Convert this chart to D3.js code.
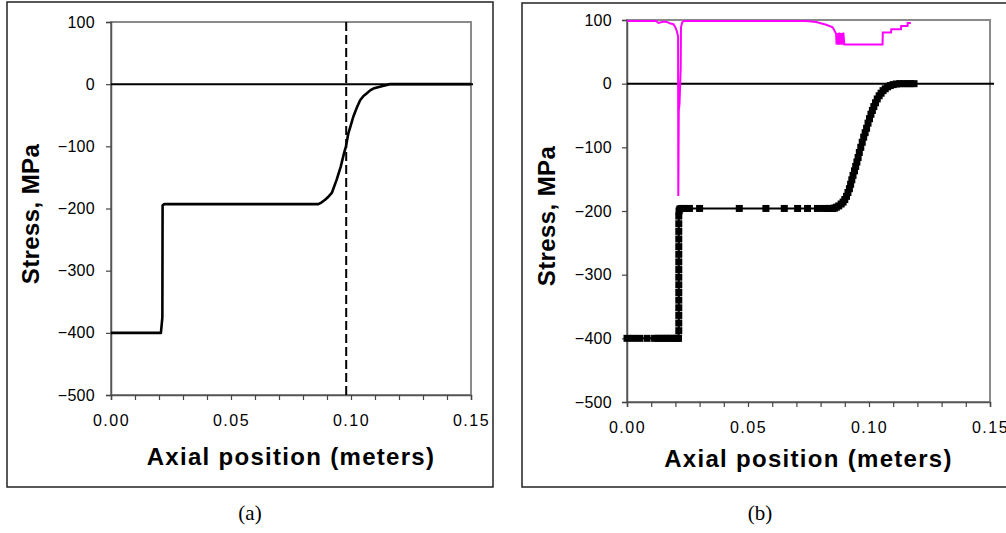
<!DOCTYPE html>
<html>
<head>
<meta charset="utf-8">
<script src="https://cdn.jsdelivr.net/npm/d3@7"></script>
<style>
  html, body { margin: 0; padding: 0; background: #fff; }
  svg { display: block; }
  .tick text { font-family: "Liberation Sans", Arial, sans-serif; font-size: 16px; fill: #000; }
</style>
</head>
<body>
<svg id="chart" width="1006" height="533"></svg>
<script>
// ---------------- DATA ----------------
const xTickValues = [0, 0.05, 0.10, 0.15];
const xTickLabels = ["0.00", "0.05", "0.10", "0.15"];
const xMinorStep = 0.01;
const yTickValues = [100, 0, -100, -200, -300, -400, -500];
const xTitle = "Axial position (meters)";
const yTitle = "Stress, MPa";
const captions = ["(a)", "(b)"];
const dashedX = 0.098;   // vertical dashed marker in panel (a)

// Panel (a): stress profile
const aX = [0, 0.0208, 0.0214, 0.0215, 0.0222, 0.0864, 0.0878, 0.0892, 0.0906, 0.0920, 0.0940, 0.0957, 0.0971, 0.0979, 0.0989, 0.1000, 0.1010, 0.1024, 0.1038, 0.1052, 0.1065, 0.1080, 0.1093, 0.1120, 0.1149, 0.1160, 0.15];
const aY = [-400, -400, -375, -195, -193, -193, -190, -186, -181, -175, -154, -133, -111, -100, -79, -65, -52, -38, -26, -19, -15, -10, -7, -4, -1.5, 0, 0];

// Panel (b): black series (square markers)
const bX = [0, 0.0026, 0.0052, 0.0083, 0.0114, 0.0128, 0.0142, 0.0156, 0.0169, 0.0183, 0.0196, 0.0206, 0.0213,
  0.0214, 0.0214, 0.0214, 0.0214, 0.0214, 0.0214, 0.0214, 0.0214, 0.0214, 0.0214, 0.0214, 0.0214, 0.0214, 0.0214, 0.0214, 0.0214,
  0.0215, 0.0218, 0.0224, 0.0235, 0.0258, 0.0300, 0.0464, 0.0574, 0.0650, 0.0705, 0.0746, 0.0787, 0.0815, 0.0830, 0.0842, 0.0850,
  0.0857, 0.0865, 0.0875, 0.0885, 0.0893, 0.0900, 0.0907, 0.0913, 0.0919, 0.0924, 0.0929, 0.0934, 0.0940, 0.0945, 0.0950, 0.0955,
  0.0960, 0.0966, 0.0972, 0.0978, 0.0984, 0.0990, 0.0996, 0.1002, 0.1008, 0.1014, 0.1020, 0.1027, 0.1034, 0.1042, 0.1050, 0.1058,
  0.1067, 0.1077, 0.1088, 0.1100, 0.1113, 0.1127, 0.1142, 0.1157, 0.1172, 0.1186];
const bY = [-400, -400, -400, -400, -400, -400, -400, -400, -400, -400, -400, -400, -400,
  -388, -376, -364, -352, -340, -328, -316, -304, -292, -280, -268, -256, -244, -232, -220, -208,
  -200, -197, -196, -196, -196, -196, -196, -196, -196, -196, -196, -196, -196, -196, -196, -196,
  -195.5, -194, -192, -189, -186, -182, -177, -171, -165, -158, -151, -144, -137, -130, -123, -116,
  -108, -100, -92, -84, -77, -70, -62, -55, -48, -42, -36, -30, -24, -19, -15, -11,
  -8, -5, -3, -1.5, -0.5, 0, 0, 0, 0, 0];

// Panel (b): magenta series
const mX = [0, 0.0120, 0.0130, 0.0140, 0.0155, 0.0168, 0.0180, 0.0192, 0.0200, 0.0206, 0.0211, 0.0212, 0.0214, 0.0217, 0.0222, 0.0223, 0.0228, 0.0236,
  0.0740, 0.0782, 0.0823, 0.0850, 0.0864, 0.0866, 0.0870, 0.0874, 0.0878, 0.0882, 0.0886, 0.0890, 0.0894, 0.0898, 0.0903,
  0.1056, 0.1057, 0.1091, 0.1092, 0.1132, 0.1133, 0.1159, 0.1160, 0.1173];
const mY = [100, 100, 97, 98, 99, 98, 96, 95, 90, 84, 76, -175, -40, -30, 27, 90, 98, 100,
  100, 98.5, 94, 90, 80, 63, 81, 63, 82, 63, 81, 63, 82, 63, 63,
  63, 82, 82, 87, 87, 92, 92, 97, 97];

// ---------------- DRAW ----------------
const svg = d3.select("#chart");
const FONT = '"Liberation Sans", Arial, sans-serif';
const fmtX = v => { const i = xTickValues.findIndex(t => Math.abs(t - v) < 1e-9); return i >= 0 ? xTickLabels[i] : ""; };
const minorTicks = d3.range(0, 0.15 + 1e-9, xMinorStep);

function panel(cfg) {
  const g = svg.append("g");
  // outer frame
  g.append("rect").attr("x", cfg.box[0]).attr("y", cfg.box[1])
    .attr("width", cfg.box[2] - cfg.box[0]).attr("height", cfg.box[3] - cfg.box[1])
    .attr("fill", "none").attr("stroke", "#222").attr("stroke-width", 1.5);

  const x = d3.scaleLinear().domain([0, 0.15]).range([cfg.plot[0], cfg.plot[2]]);
  const y = d3.scaleLinear().domain([-500, 100]).range([cfg.plot[3], cfg.plot[1]]);

  // plot area border (grey)
  g.append("rect").attr("x", cfg.plot[0]).attr("y", cfg.plot[1])
    .attr("width", cfg.plot[2] - cfg.plot[0]).attr("height", cfg.plot[3] - cfg.plot[1])
    .attr("fill", "none").attr("stroke", "#8a8a8a").attr("stroke-width", 2);

  // axes
  const ya = g.append("g").attr("transform", `translate(${cfg.plot[0]},0)`)
    .call(d3.axisLeft(y).tickValues(yTickValues).tickSize(5).tickPadding(cfg.yPad).tickFormat(d3.format("d")));
  ya.select(".domain").attr("stroke", "#555").attr("stroke-width", 1.5);
  ya.selectAll(".tick line").attr("stroke", "#444").attr("stroke-width", 1.2);
  ya.selectAll(".tick text").style("letter-spacing", "0.3px");

  const xa = g.append("g").attr("transform", `translate(0,${cfg.plot[3]})`)
    .call(d3.axisBottom(x).tickValues(minorTicks).tickSize(5).tickPadding(15).tickFormat(fmtX));
  xa.select(".domain").attr("stroke", "#555").attr("stroke-width", 1.5);
  xa.selectAll(".tick line").attr("stroke", "#444").attr("stroke-width", 1.2);
  xa.selectAll(".tick text").style("letter-spacing", "1.5px");

  // zero line
  g.append("line").attr("x1", x(0)).attr("x2", x(0.15) + cfg.zeroExt)
    .attr("y1", y(0)).attr("y2", y(0)).attr("stroke", "#000").attr("stroke-width", 2);

  // titles
  g.append("text").attr("x", (cfg.plot[0] + cfg.plot[2]) / 2).attr("y", cfg.xTitleY)
    .attr("text-anchor", "middle").attr("font-family", FONT).attr("font-weight", "bold")
    .attr("font-size", 24).style("letter-spacing", "1.3px").text(xTitle);
  g.append("text").attr("transform", `translate(${cfg.yTitleX},${cfg.yTitleC}) rotate(-90)`)
    .attr("text-anchor", "middle").attr("font-family", FONT).attr("font-weight", "bold")
    .attr("font-size", 24).style("letter-spacing", "0.4px").text(yTitle);

  // caption
  svg.append("text").attr("x", cfg.capX).attr("y", 520).attr("text-anchor", "middle")
    .attr("font-family", '"Liberation Serif", "DejaVu Serif", serif').attr("font-size", 21)
    .text(cfg.caption);

  return { g, x, y };
}

// Panel (a)
const A = panel({ box: [7, 2, 493, 487], plot: [111, 22, 471, 395], yPad: 11, zeroExt: 2,
  xTitleY: 465, yTitleX: 39, yTitleC: 214, capX: 250, caption: captions[0] });
const lineA = d3.line().x((d, i) => A.x(aX[i])).y((d, i) => A.y(aY[i]));
A.g.append("path").attr("d", lineA(aX)).attr("fill", "none").attr("stroke", "#000")
  .attr("stroke-width", 2.6).attr("stroke-linejoin", "round");
A.g.append("line").attr("x1", A.x(dashedX)).attr("x2", A.x(dashedX))
  .attr("y1", A.y(100)).attr("y2", A.y(-500))
  .attr("stroke", "#000").attr("stroke-width", 2).attr("stroke-dasharray", "9,4");

// Panel (b)
const B = panel({ box: [522, 3, 1012, 487], plot: [627, 20, 990, 402], yPad: 10, zeroExt: 4,
  xTitleY: 467, yTitleX: 555, yTitleC: 216, capX: 760, caption: captions[1] });
const lineM = d3.line().x((d, i) => B.x(mX[i])).y((d, i) => B.y(mY[i]) + 1);
B.g.append("path").attr("d", lineM(mX)).attr("fill", "none").attr("stroke", "#ff00ff")
  .attr("stroke-width", 2).attr("stroke-linejoin", "miter");
const lineB = d3.line().x((d, i) => B.x(bX[i])).y((d, i) => B.y(bY[i]));
B.g.append("path").attr("d", lineB(bX)).attr("fill", "none").attr("stroke", "#000")
  .attr("stroke-width", 2);
B.g.append("g").selectAll("rect").data(bX).join("rect")
  .attr("x", (d, i) => B.x(bX[i]) - 3.5).attr("y", (d, i) => B.y(bY[i]) - 3.5)
  .attr("width", 7).attr("height", 7).attr("fill", "#000");
</script>
</body>
</html>
